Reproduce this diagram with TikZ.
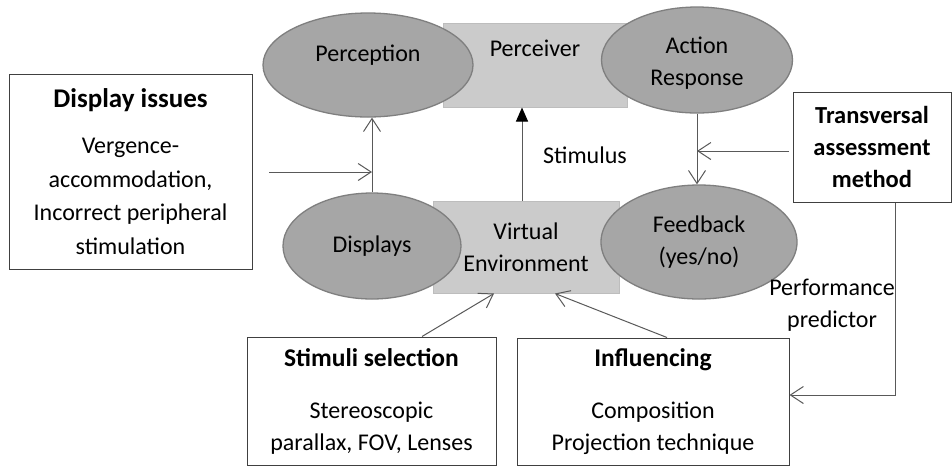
\documentclass[tikz,border=0pt]{standalone}
\usepackage{fontspec}
\setmainfont{Carlito}
\usetikzlibrary{arrows.meta,shapes.geometric,calc}
\definecolor{ellfill}{HTML}{A6A6A6}
\definecolor{elldraw}{HTML}{7F7F7F}
\definecolor{rectfill}{HTML}{CBCBCB}
\definecolor{rectdraw}{HTML}{BDBDBD}
\definecolor{boxdraw}{HTML}{404040}
\definecolor{linegray}{HTML}{595959}
\begin{document}
\begin{tikzpicture}[x=1pt,y=-1pt,
  txt/.style={font=\fontsize{24}{32}\selectfont, align=center, text=black},
  ell/.style={ellipse, draw=elldraw, fill=ellfill, line width=1.3pt, inner sep=0pt, txt},
  rbox/.style={rectangle, draw=rectdraw, fill=rectfill, line width=1pt, inner sep=0pt, txt},
  wbox/.style={rectangle, draw=boxdraw, fill=white, line width=1pt, inner sep=0pt, txt},
  conn/.style={draw=linegray, line width=1pt},
  openarrow/.style={conn, -{Straight Barb[length=13pt,width=17pt]}},
  fillarrow/.style={conn, -{Triangle[length=14pt,width=12pt,fill=black,color=black]}},
  lbl/.style={txt, inner sep=0pt}
]
\newcommand{\ttl}[2]{{\fontsize{#1}{32}\selectfont\bfseries #2}}
\useasboundingbox[fill=white] (0,0) rectangle (952,467);

% rectangles
\node[rbox, minimum width=184pt, minimum height=84pt,
  label={[lbl, yshift=17pt]center:Perceiver}] (perceiver) at (535,65) {};
\node[rbox, minimum width=186pt, minimum height=92pt] (ve) at (526,247) {Virtual\\Environment};

% ellipses
\node[ell, minimum width=210pt, minimum height=104pt,
  label={[lbl, yshift=10pt]center:Perception}] (perception) at (368,65) {};
\node[ell, minimum width=191pt, minimum height=106pt,
  label={[lbl, yshift=-3pt]center:Action\\Response}] (action) at (697,60) {};
\node[ell, minimum width=178pt, minimum height=106pt] (displays) at (372,246) {Displays};
\node[ell, minimum width=196pt, minimum height=114pt] (feedback) at (699,242) {Feedback\\(yes/no)};

% white boxes
\node[wbox, minimum width=243pt, minimum height=195pt] (issues) at (130.5,171.5)
  {\ttl{27}{Display issues}\\[14pt]Vergence-\\[1.5pt]accommodation,\\[1.5pt]Incorrect peripheral\\[1.5pt]stimulation};
\node[wbox, minimum width=158pt, minimum height=110pt, font=\fontsize{24.5}{32}\selectfont\bfseries] (transversal) at (872,147)
  {Transversal\\assessment\\method};
\node[wbox, minimum width=249pt, minimum height=128pt] (stimuli) at (371.5,401)
  {\ttl{25.5}{Stimuli selection}\\[20pt]Stereoscopic\\parallax, FOV, Lenses};
\node[wbox, minimum width=272pt, minimum height=127pt] (influencing) at (653,401.5)
  {\ttl{25.5}{Influencing}\\[20pt]Composition\\Projection technique};

% labels
\node[lbl] (stimlabel) at (585,155) {Stimulus};
\node[lbl] (perf) at (832,305) {Performance\\predictor};

% helper coordinates
\coordinate (lx) at (269,172);
\coordinate (sx) at (522,0);
\coordinate (tx) at (789,151);
\coordinate (px) at (895,0);
\coordinate (iy) at (0,395);
\coordinate (s1) at (422,0);
\coordinate (s2) at (494,0);
\coordinate (i1) at (667,0);
\coordinate (i2) at (555,0);

% connectors
\draw[openarrow] (displays.north) -- (displays.north |- perception.south);
\draw[openarrow] (lx) -- (lx -| displays.north);
\draw[fillarrow] (ve.north -| sx) -- (perceiver.south -| sx);
\draw[openarrow] (action.south) -- (action.south |- feedback.north);
\draw[openarrow] (tx) -- (tx -| action.south);
\draw[openarrow] (transversal.south -| px) |- (influencing.east |- iy);
\draw[openarrow] (stimuli.north -| s1) -- (ve.south -| s2);
\draw[openarrow] (influencing.north -| i1) -- (ve.south -| i2);
\end{tikzpicture}
\end{document}
